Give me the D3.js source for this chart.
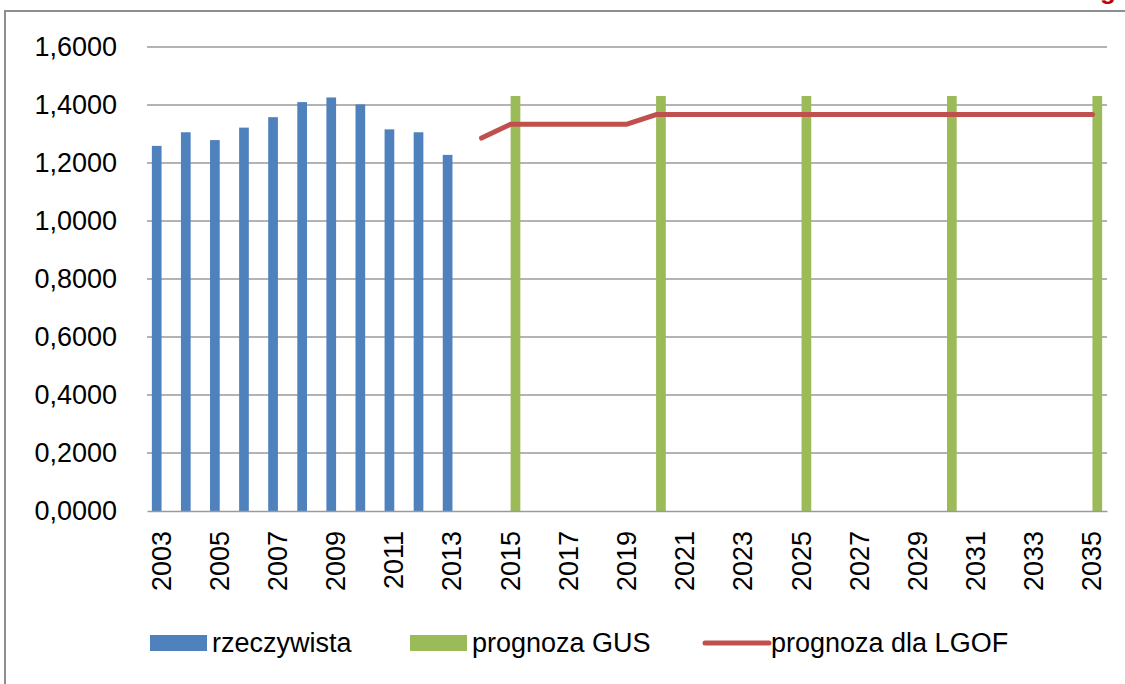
<!DOCTYPE html>
<html>
<head>
<meta charset="utf-8">
<script src="https://cdn.jsdelivr.net/npm/d3@7"></script>
<style>
  body { margin: 0; background: #fff; }
  svg text { font-family: "Liberation Sans", Arial, sans-serif; fill: #000; }
</style>
</head>
<body>
<div id="chart"></div>
<script>
const years = [2003, 2004, 2005, 2006, 2007, 2008, 2009, 2010, 2011, 2012, 2013,
  2014, 2015, 2016, 2017, 2018, 2019, 2020, 2021, 2022, 2023, 2024, 2025,
  2026, 2027, 2028, 2029, 2030, 2031, 2032, 2033, 2034, 2035];
const tickYears = [2003, 2005, 2007, 2009, 2011, 2013, 2015, 2017, 2019, 2021,
  2023, 2025, 2027, 2029, 2031, 2033, 2035];
const yTicks = [0, 0.2, 0.4, 0.6, 0.8, 1.0, 1.2, 1.4, 1.6];

// rzeczywista (2003-2013)
const actualYears = [2003, 2004, 2005, 2006, 2007, 2008, 2009, 2010, 2011, 2012, 2013];
const actualValues = [1.259, 1.306, 1.279, 1.322, 1.358, 1.410, 1.426, 1.402, 1.316, 1.306, 1.228];

// prognoza GUS
const gusYears = [2015, 2020, 2025, 2030, 2035];
const gusValues = [1.431, 1.431, 1.431, 1.431, 1.431];

// prognoza dla LGOF
const lgofYears = [2014, 2015, 2016, 2017, 2018, 2019, 2020, 2021, 2022, 2023, 2024,
  2025, 2026, 2027, 2028, 2029, 2030, 2031, 2032, 2033, 2034, 2035];
const lgofValues = [1.286, 1.334, 1.334, 1.334, 1.334, 1.334, 1.367, 1.367, 1.367, 1.367, 1.367,
  1.367, 1.367, 1.367, 1.367, 1.367, 1.367, 1.367, 1.367, 1.367, 1.367, 1.367];

const seriesNames = ["rzeczywista", "prognoza GUS", "prognoza dla LGOF"];
const colors = { blue: "#4f81bd", green: "#9bbb59", red: "#c0504d" };

const W = 1125, H = 684;
const svg = d3.select("#chart").append("svg")
  .attr("width", W).attr("height", H);

// frame
svg.append("path")
  .attr("d", "M5,684 V11 H1125")
  .attr("fill", "none").attr("stroke", "#8e8e8e").attr("stroke-width", 2);

// clipped title fragment at top right
svg.append("text")
  .attr("x", 1108).attr("y", -1)
  .attr("text-anchor", "middle")
  .style("font-size", "26px").style("font-weight", "bold")
  .style("fill", "#c00000")
  .text("g");

const x = d3.scaleBand().domain(years).range([147, 1107]).padding(0);
const sub = d3.scaleBand().domain(["actual", "gus"]).range([0, x.bandwidth()])
  .paddingInner(0).paddingOuter(0.5);
const y = d3.scaleLinear().domain([0, 1.6]).range([511, 47]);

const locale = d3.formatLocale({ decimal: ",", thousands: " ", grouping: [3], currency: ["", ""] });
const fmt = locale.format(".4f");

// grid
svg.append("g").selectAll("line")
  .data(yTicks.filter(d => d > 0))
  .join("line")
  .attr("x1", 147).attr("x2", 1107)
  .attr("y1", d => y(d)).attr("y2", d => y(d))
  .attr("stroke", "#9a9a9a").attr("stroke-width", 1.5);

// y axis labels
const yAxis = svg.append("g")
  .attr("transform", "translate(147,0)")
  .call(d3.axisLeft(y).tickValues(yTicks).tickFormat(fmt).tickSize(0).tickPadding(30));
yAxis.select(".domain").remove();
yAxis.selectAll("text").style("font-size", "27px");

// bars
svg.append("g").selectAll("rect")
  .data(actualYears.map((yr, i) => ({ yr, v: actualValues[i] })))
  .join("rect")
  .attr("x", d => x(d.yr) + sub("actual"))
  .attr("width", sub.bandwidth())
  .attr("y", d => y(d.v))
  .attr("height", d => y(0) - y(d.v))
  .attr("fill", colors.blue);

svg.append("g").selectAll("rect")
  .data(gusYears.map((yr, i) => ({ yr, v: gusValues[i] })))
  .join("rect")
  .attr("x", d => x(d.yr) + sub("gus"))
  .attr("width", sub.bandwidth())
  .attr("y", d => y(d.v))
  .attr("height", d => y(0) - y(d.v))
  .attr("fill", colors.green);

// x axis
const xAxis = svg.append("g")
  .attr("transform", "translate(0,511)")
  .call(d3.axisBottom(x).tickValues(tickYears).tickSize(0).tickPadding(0));
xAxis.select(".domain").attr("stroke", "#9a9a9a").attr("stroke-width", 1.5);
xAxis.selectAll("text")
  .style("font-size", "27px")
  .attr("text-anchor", "end")
  .attr("dy", null)
  .attr("dominant-baseline", "central")
  .attr("transform", "translate(0,20) rotate(-90)")
  .attr("y", 0).attr("x", 0);

// line
const line = d3.line()
  .x(d => x(d.yr) + x.bandwidth() / 2)
  .y(d => y(d.v));
svg.append("path")
  .datum(lgofYears.map((yr, i) => ({ yr, v: lgofValues[i] })))
  .attr("d", line)
  .attr("fill", "none")
  .attr("stroke", colors.red)
  .attr("stroke-width", 5)
  .attr("stroke-linecap", "round")
  .attr("stroke-linejoin", "round");

// legend
const legend = svg.append("g").attr("transform", "translate(0,643)");
const legendItems = [
  { name: seriesNames[0], kind: "rect", color: colors.blue, x: 150 },
  { name: seriesNames[1], kind: "rect", color: colors.green, x: 410 },
  { name: seriesNames[2], kind: "line", color: colors.red, x: 705 }
];
legendItems.forEach(it => {
  if (it.kind === "rect") {
    legend.append("rect").attr("x", it.x).attr("y", -8).attr("width", 57).attr("height", 16)
      .attr("fill", it.color);
  } else {
    legend.append("line").attr("x1", it.x).attr("x2", it.x + 64).attr("y1", 0).attr("y2", 0)
      .attr("stroke", it.color).attr("stroke-width", 5).attr("stroke-linecap", "round");
  }
  legend.append("text")
    .attr("x", it.x + (it.kind === "rect" ? 62 : 66))
    .attr("y", 0).attr("dominant-baseline", "central")
    .style("font-size", "27px")
    .text(it.name);
});
</script>
</body>
</html>
